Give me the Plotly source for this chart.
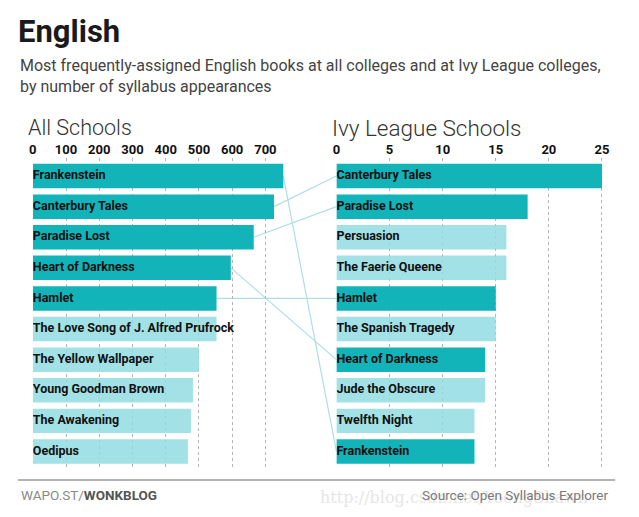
import plotly.graph_objects as go

W, H = 639, 517

# ---- data ----
all_books = ["Frankenstein", "Canterbury Tales", "Paradise Lost", "Heart of Darkness", "Hamlet",
             "The Love Song of J. Alfred Prufrock", "The Yellow Wallpaper", "Young Goodman Brown",
             "The Awakening", "Oedipus"]
all_counts = [754, 726, 665, 596, 553, 553, 500, 482, 476, 467]

ivy_books = ["Canterbury Tales", "Paradise Lost", "Persuasion", "The Faerie Queene", "Hamlet",
             "The Spanish Tragedy", "Heart of Darkness", "Jude the Obscure", "Twelfth Night", "Frankenstein"]
ivy_counts = [25, 18, 16, 16, 15, 15, 14, 14, 13, 13]

all_ticks = [0, 100, 200, 300, 400, 500, 600, 700]
ivy_ticks = [0, 5, 10, 15, 20, 25]

DARK = "#13b4b9"
LIGHT = "rgba(146,220,226,0.85)"
LINE = "#aee0e3"

# ---- layout geometry (pixels -> paper) ----
def px_x(p):
    return p / W

def px_y(p):
    return 1 - p / H

X1_DOM = [px_x(29), px_x(300)]
X1_RNG = [0, (300 - 29) / 0.3343]
X2_DOM = [px_x(334.5), px_x(615)]
X2_RNG = [0, (615 - 334.5) / 10.69]
Y_DOM = [px_y(467), px_y(158)]
Y_RNG = [9.507, -0.589]


def to_paper(v, dom, rng):
    return dom[0] + (v - rng[0]) / (rng[1] - rng[0]) * (dom[1] - dom[0])


common = set(all_books) & set(ivy_books)
all_colors = [DARK if b in common else LIGHT for b in all_books]
ivy_colors = [DARK if b in common else LIGHT for b in ivy_books]
pos = list(range(len(all_books)))

fig = go.Figure()

fig.add_trace(go.Bar(x=all_counts, y=pos, orientation="h", width=0.8,
                     marker=dict(color=all_colors, line=dict(width=0)),
                     xaxis="x", yaxis="y", hoverinfo="skip"))
fig.add_trace(go.Bar(x=ivy_counts, y=pos, orientation="h", width=0.8,
                     marker=dict(color=ivy_colors, line=dict(width=0)),
                     xaxis="x2", yaxis="y", hoverinfo="skip"))

labfont = dict(family="Roboto", size=12.5, color="#111111", weight="bold")
fig.add_trace(go.Scatter(x=[0] * len(all_books), y=pos, mode="text", text=all_books,
                         textposition="middle right", textfont=labfont,
                         xaxis="x", yaxis="y", hoverinfo="skip"))
fig.add_trace(go.Scatter(x=[0] * len(ivy_books), y=pos, mode="text", text=ivy_books,
                         textposition="middle right", textfont=labfont,
                         xaxis="x2", yaxis="y", hoverinfo="skip"))

# connecting lines between the two rankings
shapes = []
for i, b in enumerate(all_books):
    if b in ivy_books:
        j = ivy_books.index(b)
        shapes.append(dict(type="line", xref="paper", yref="paper",
                           x0=to_paper(all_counts[i], X1_DOM, X1_RNG),
                           y0=to_paper(i, Y_DOM, Y_RNG),
                           x1=to_paper(0, X2_DOM, X2_RNG),
                           y1=to_paper(j, Y_DOM, Y_RNG),
                           line=dict(color=LINE, width=1.2), layer="below"))

# footer rule
shapes.append(dict(type="line", xref="paper", yref="paper", x0=px_x(14), x1=px_x(615),
                   y0=px_y(480), y1=px_y(480), line=dict(color="#9a9a9a", width=1.5)))

tickfont = dict(family="Roboto", size=13, color="#111111", weight="bold")
axis_common = dict(side="top", showgrid=True, griddash="dot", gridcolor="#b5b5b5", gridwidth=1,
                   zeroline=False, showline=False, ticks="", tickfont=tickfont, fixedrange=True)

annotations = [
    dict(text="<b>English</b>", x=px_x(12), y=px_y(31), xanchor="left", yanchor="middle",
         font=dict(family="Roboto", size=31, color="#1a1a1a")),
    dict(text="Most frequently-assigned English books at all colleges and at Ivy League colleges,<br>"
              "by number of syllabus appearances",
         x=px_x(14), y=px_y(76), xanchor="left", yanchor="middle", align="left",
         font=dict(family="Roboto", size=16, color="#444444")),
    dict(text="All Schools", x=px_x(22), y=px_y(128), xanchor="left", yanchor="middle",
         font=dict(family="Roboto", size=21.5, color="#333333", weight=300)),
    dict(text="Ivy League Schools", x=px_x(328), y=px_y(128), xanchor="left", yanchor="middle",
         font=dict(family="Roboto", size=22.5, color="#333333", weight=300)),
    dict(text="<span style='color:#8a8a8a'>WAPO.ST/</span><b>WONKBLOG</b>",
         x=px_x(15), y=px_y(495), xanchor="left", yanchor="middle",
         font=dict(family="Roboto", size=13.5, color="#555555")),
    dict(text="http://blog.csdn.net/YoongShawn", x=px_x(316), y=px_y(497), xanchor="left",
         yanchor="middle", font=dict(family="DejaVu Serif", size=16, color="#e6e6e6")),
    dict(text="Source: Open Syllabus Explorer", x=px_x(610), y=px_y(495), xanchor="right",
         yanchor="middle", font=dict(family="Roboto", size=13.5, color="#7a7a7a")),
]
for a in annotations:
    a.update(xref="paper", yref="paper", showarrow=False)

fig.update_layout(
    width=W, height=H, margin=dict(l=0, r=0, t=0, b=0),
    paper_bgcolor="white", plot_bgcolor="white", showlegend=False, barmode="overlay",
    xaxis=dict(domain=X1_DOM, range=X1_RNG, tickvals=all_ticks, anchor="y", **axis_common),
    xaxis2=dict(domain=X2_DOM, range=X2_RNG, tickvals=ivy_ticks, anchor="y", **axis_common),
    yaxis=dict(domain=Y_DOM, range=Y_RNG, visible=False, fixedrange=True),
    shapes=shapes, annotations=annotations,
)

fig.write_html("out.html", config={"displayModeBar": False},
               post_script="document.body.style.margin='0';document.body.style.overflow='hidden';")
